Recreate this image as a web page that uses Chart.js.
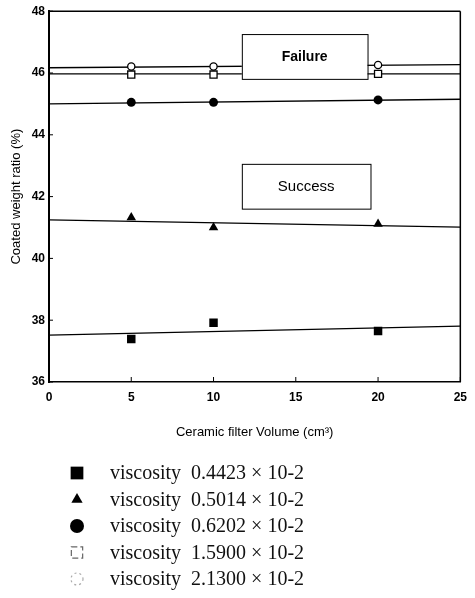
<!DOCTYPE html>
<html>
<head>
<meta charset="utf-8">
<script src="https://cdn.jsdelivr.net/npm/chart.js@4/dist/chart.umd.min.js"></script>
<style>
  html, body { margin: 0; padding: 0; background: #fff; }
  #wrap { width: 475px; height: 598px; position: relative; }
</style>
</head>
<body>
<div id="wrap"><canvas id="c" width="475" height="598"></canvas></div>
<script>
// ---- data ----
const filterVolume = [5, 10, 20];
const visc04423 = [37.39, 37.92, 37.65];
const visc05014 = [41.32, 41.00, 41.11];
const visc06202 = [45.05, 45.05, 45.13];
const visc15900 = [45.95, 45.95, 45.97];
const visc21300 = [46.21, 46.21, 46.26];

const fitX = [0, 25];
const fit04423 = [37.52, 37.81];
const fit05014 = [41.25, 41.01];
const fit06202 = [45.00, 45.15];
const fit15900 = [45.97, 45.97];
const fit21300 = [46.17, 46.27];

const seriesLabels = [
  'viscosity  0.4423 \u00d7 10-2',
  'viscosity  0.5014 \u00d7 10-2',
  'viscosity  0.6202 \u00d7 10-2',
  'viscosity  1.5900 \u00d7 10-2',
  'viscosity  2.1300 \u00d7 10-2'
];
const yTicks = [36, 38, 40, 42, 44, 46, 48];
const xTicks = [0, 5, 10, 15, 20, 25];
const boxLabels = ['Failure', 'Success'];

const pts = (xs, ys) => xs.map((x, i) => ({ x: x, y: ys[i] }));

const markerSets = [visc04423, visc05014, visc06202, visc15900, visc21300];
const fitSets = [fit04423, fit05014, fit06202, fit15900, fit21300];
const markerStyles = [
  { pointStyle: 'rect', pointRadius: 6, backgroundColor: '#000', borderColor: '#000', borderWidth: 0 },
  { pointStyle: 'triangle', pointRadius: 5.5, backgroundColor: '#000', borderColor: '#000', borderWidth: 0 },
  { pointStyle: 'circle', pointRadius: 4.5, backgroundColor: '#000', borderColor: '#000', borderWidth: 0 },
  { pointStyle: 'rect', pointRadius: 5, backgroundColor: '#fff', borderColor: '#000', borderWidth: 1.3 },
  { pointStyle: 'circle', pointRadius: 3.6, backgroundColor: '#fff', borderColor: '#000', borderWidth: 1.3 }
];

const datasets = [];
fitSets.forEach((f, i) => {
  datasets.push({
    label: 'fit ' + seriesLabels[i],
    data: pts(fitX, f),
    showLine: true,
    borderColor: '#000',
    borderWidth: 1.3,
    pointRadius: 0,
    fill: false,
    order: 2
  });
});
markerSets.forEach((m, i) => {
  datasets.push(Object.assign({
    label: seriesLabels[i],
    data: pts(filterVolume, m),
    showLine: false,
    order: 1
  }, markerStyles[i]));
});

// ---- plugins ----
const framePlugin = {
  id: 'frame',
  afterDatasetsDraw(chart) {
    const { ctx, chartArea: a, scales } = chart;
    ctx.save();
    ctx.strokeStyle = '#000';
    ctx.lineWidth = 1.5;
    ctx.beginPath();
    ctx.moveTo(a.left, a.top); ctx.lineTo(a.right, a.top);
    ctx.moveTo(a.right, a.top); ctx.lineTo(a.right, a.bottom);
    ctx.stroke();
    // inward ticks
    ctx.lineWidth = 1;
    ctx.beginPath();
    xTicks.forEach(v => {
      const x = scales.x.getPixelForValue(v);
      ctx.moveTo(x, a.bottom); ctx.lineTo(x, a.bottom - 5);
    });
    yTicks.forEach(v => {
      const y = scales.y.getPixelForValue(v);
      ctx.moveTo(a.left, y); ctx.lineTo(a.left + 4, y);
    });
    ctx.stroke();
    ctx.restore();
  }
};

const boxPlugin = {
  id: 'boxes',
  afterDatasetsDraw(chart, args, opts) {
    const { ctx, scales } = chart;
    ctx.save();
    opts.items.forEach((b, i) => {
      const x1 = scales.x.getPixelForValue(b.x0), x2 = scales.x.getPixelForValue(b.x1);
      const y1 = scales.y.getPixelForValue(b.y0), y2 = scales.y.getPixelForValue(b.y1);
      ctx.fillStyle = '#fff';
      ctx.fillRect(x1, y1, x2 - x1, y2 - y1);
      ctx.strokeStyle = '#000';
      ctx.lineWidth = 1;
      ctx.strokeRect(x1 + 0.5, y1 + 0.5, x2 - x1, y2 - y1);
      ctx.fillStyle = '#000';
      ctx.font = b.font;
      ctx.textAlign = 'center';
      ctx.textBaseline = 'middle';
      ctx.fillText(boxLabels[i], (x1 + x2) / 2, (y1 + y2) / 2 + 1);
    });
    ctx.restore();
  }
};

const legendPlugin = {
  id: 'listLegend',
  afterDraw(chart, args, opts) {
    const ctx = chart.ctx;
    ctx.save();
    seriesLabels.forEach((lab, i) => {
      const y = opts.top + i * opts.step;
      const s = opts.markers[i];
      ctx.fillStyle = s.fill;
      ctx.strokeStyle = s.stroke;
      ctx.lineWidth = s.borderWidth;
      ctx.setLineDash(s.dash || []);
      Chart.helpers.drawPoint(ctx, { pointStyle: s.style, radius: s.radius, borderWidth: s.borderWidth, rotation: 0 }, opts.markerX, y);
      ctx.setLineDash([]);
      ctx.fillStyle = '#111';
      ctx.font = opts.font;
      ctx.textAlign = 'left';
      ctx.textBaseline = 'middle';
      ctx.fillText(lab, opts.textX, y + 1);
    });
    ctx.restore();
  }
};

const tickFont = { family: "'Liberation Sans', Arial, sans-serif", size: 12, weight: 'bold' };

new Chart(document.getElementById('c'), {
  type: 'scatter',
  data: { datasets: datasets },
  plugins: [framePlugin, boxPlugin, legendPlugin],
  options: {
    responsive: false,
    animation: false,
    layout: { padding: { left: 0, top: 10, right: 8, bottom: 156 } },
    plugins: {
      legend: { display: false },
      tooltip: { enabled: false },
      boxes: {
        items: [
          { x0: 11.72, x1: 19.36, y0: 47.26, y1: 45.81, font: "bold 14px 'Liberation Sans', Arial, sans-serif" },
          { x0: 11.72, x1: 19.54, y0: 43.06, y1: 41.61, font: "15px 'Liberation Sans', Arial, sans-serif" }
        ]
      },
      listLegend: {
        top: 473, step: 26.5, markerX: 77, textX: 110,
        font: "20px 'Liberation Serif', 'Times New Roman', serif",
        markers: [
          { style: 'rect', radius: 9, fill: '#000', stroke: '#000', borderWidth: 0 },
          { style: 'triangle', radius: 6.5, fill: '#000', stroke: '#000', borderWidth: 0 },
          { style: 'circle', radius: 7, fill: '#000', stroke: '#000', borderWidth: 0 },
          { style: 'rect', radius: 8, fill: '#fff', stroke: '#666', borderWidth: 1.2, dash: [6, 3] },
          { style: 'circle', radius: 6, fill: '#fff', stroke: '#aaa', borderWidth: 1.2, dash: [2, 3] }
        ]
      }
    },
    scales: {
      x: {
        type: 'linear',
        min: 0, max: 25,
        afterBuildTicks: s => { s.ticks = xTicks.map(v => ({ value: v })); },
        afterFit: s => { s.height = 60; },
        grid: { display: false, drawTicks: false, tickLength: 0 },
        border: { display: true, color: '#000', width: 1.5 },
        ticks: { color: '#000', font: tickFont, padding: 8 },
        title: {
          display: true,
          text: 'Ceramic filter Volume (cm\u00b3)',
          color: '#000',
          font: { family: "'Liberation Sans', Arial, sans-serif", size: 13 },
          padding: { top: 0, bottom: 2 }
        }
      },
      y: {
        type: 'linear',
        min: 36, max: 48,
        afterBuildTicks: s => { s.ticks = yTicks.map(v => ({ value: v })); },
        afterFit: s => { s.width = 49; },
        grid: { display: false, drawTicks: false, tickLength: 0 },
        border: { display: true, color: '#000', width: 2 },
        ticks: { color: '#000', font: tickFont, padding: 4 },
        title: {
          display: true,
          text: 'Coated weight ratio (%)',
          color: '#000',
          font: { family: "'Liberation Sans', Arial, sans-serif", size: 13 },
          padding: { top: 9, bottom: 0 }
        }
      }
    }
  }
});
</script>
</body>
</html>
